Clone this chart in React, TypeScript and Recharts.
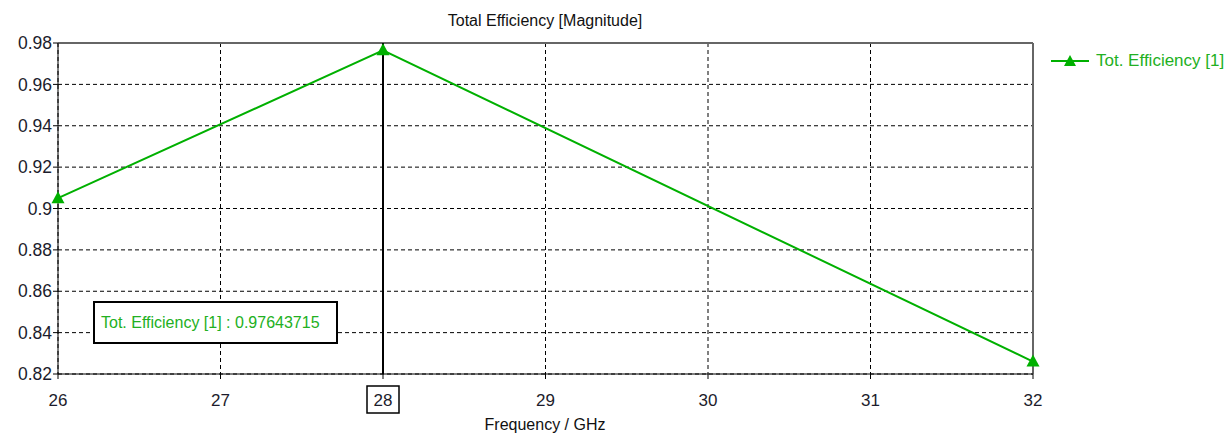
import React from "react";
import {
  CartesianGrid,
  Line,
  LineChart,
  ReferenceLine,
  XAxis,
  YAxis
} from "recharts";

const FREQUENCIES = [26, 28, 32];
const EFFICIENCY = [0.905, 0.97643715, 0.826];
const X_TICKS = [26, 27, 28, 29, 30, 31, 32];
const Y_TICKS = [0.82, 0.84, 0.86, 0.88, 0.9, 0.92, 0.94, 0.96, 0.98];
const MARKER_FREQ = 28;
const SERIES_NAME = "Tot. Efficiency [1]";

const GREEN = "#00b000";
const TEXT_GREEN = "#22b022";
const FONT = "'Liberation Sans', Arial, sans-serif";

const data = FREQUENCIES.map((f, i) => ({ freq: f, eff: EFFICIENCY[i] }));

function Triangle({ cx, cy }: { cx?: number; cy?: number }) {
  if (cx == null || cy == null) return null;
  return (
    <path
      d={`M${cx},${cy - 7} L${cx + 6.5},${cy + 5} L${cx - 6.5},${cy + 5} Z`}
      fill={GREEN}
    />
  );
}

function XTick({ x, y, payload }: any) {
  const boxed = payload.value === MARKER_FREQ;
  return (
    <g>
      {boxed && (
        <rect x={x - 16} y={y + 5} width={32} height={27} fill="#fff" stroke="#000" strokeWidth={1.5} />
      )}
      <text x={x} y={y + 25} textAnchor="middle" fontSize={17} fill="#1c1c2c" fontFamily={FONT}>
        {payload.value}
      </text>
    </g>
  );
}

export default function App() {
  return (
    <div style={{ position: "absolute", left: 0, top: 0, width: 1230, height: 434, background: "#fff", overflow: "hidden" }}>
      <div
        style={{
          position: "absolute",
          left: 0,
          width: 1090,
          top: 12,
          textAlign: "center",
          fontFamily: FONT,
          fontSize: 16,
          color: "#111"
        }}
      >
        Total Efficiency [Magnitude]
      </div>
      <LineChart width={1230} height={434} data={data} margin={{ top: 43, right: 197, bottom: 0, left: 0 }}>
        <CartesianGrid stroke="#000" strokeDasharray="4 3" strokeWidth={1} />
        <XAxis
          dataKey="freq"
          type="number"
          domain={[26, 32]}
          ticks={X_TICKS}
          height={60}
          tickSize={5}
          stroke="#000"
          tick={<XTick />}
        />
        <YAxis
          type="number"
          domain={[0.82, 0.98]}
          ticks={Y_TICKS}
          width={58}
          tickSize={5}
          tickMargin={1}
          stroke="#000"
          tickFormatter={(v: number) => String(Number(v.toFixed(2)))}
          tick={{ fontSize: 17.5, fill: "#1c1c2c", fontFamily: FONT }}
        />
        <ReferenceLine y={0.98} stroke="#666" strokeWidth={2} />
        <ReferenceLine x={32} stroke="#666" strokeWidth={2} />
        <ReferenceLine x={MARKER_FREQ} stroke="#000" strokeWidth={2} />
        <Line
          dataKey="eff"
          name={SERIES_NAME}
          stroke={GREEN}
          strokeWidth={2}
          dot={<Triangle />}
          activeDot={false}
          isAnimationActive={false}
        />
      </LineChart>
      <div
        style={{
          position: "absolute",
          left: 0,
          width: 1090,
          top: 416,
          textAlign: "center",
          fontFamily: FONT,
          fontSize: 16,
          color: "#111"
        }}
      >
        Frequency / GHz
      </div>
      <div
        style={{
          position: "absolute",
          left: 1050,
          top: 51,
          display: "flex",
          alignItems: "center",
          fontFamily: FONT
        }}
      >
        <svg width={40} height={16}>
          <line x1={1} y1={8} x2={39} y2={8} stroke={GREEN} strokeWidth={2} />
          <path d="M20,2 L26,13 L14,13 Z" fill={GREEN} />
        </svg>
        <span style={{ color: TEXT_GREEN, fontSize: 17, marginLeft: 6 }}>{SERIES_NAME}</span>
      </div>
      <div
        style={{
          position: "absolute",
          left: 93,
          top: 301,
          width: 245,
          height: 43,
          boxSizing: "border-box",
          border: "2px solid #000",
          background: "#fff",
          fontFamily: FONT,
          fontSize: 16,
          color: TEXT_GREEN,
          lineHeight: "39px",
          paddingLeft: 6,
          whiteSpace: "nowrap"
        }}
      >
        {SERIES_NAME} : 0.97643715
      </div>
    </div>
  );
}
